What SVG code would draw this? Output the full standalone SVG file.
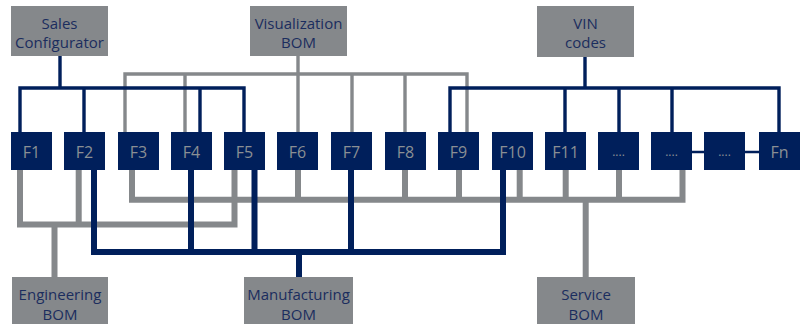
<svg xmlns="http://www.w3.org/2000/svg" width="800" height="324" viewBox="0 0 800 324">
<style>
.src{fill:#85888b}
.src text{fill:#1b2d5e;font-family:"Open Sans","Liberation Sans",sans-serif;font-size:15px;text-anchor:middle}
.f rect{fill:#001f5b}
.f text{fill:#8a8f94;font-family:"Open Sans","Liberation Sans",sans-serif;font-size:16px;text-anchor:middle}
.gt{fill:none;stroke:#85888b;stroke-width:3.4}
.nt{fill:none;stroke:#001f5b;stroke-width:3.4}
.gb{fill:none;stroke:#85888b;stroke-width:6}
.nb{fill:none;stroke:#001f5b;stroke-width:6}
.nl{fill:none;stroke:#001f5b;stroke-width:2.5}
</style>
<g id="connectors">
<path class="gt" d="M298,56V132 M125,132V74H467V132 M185,74V132 M352,74V132 M405,74V132"/>
<path class="nt" d="M60,56V88 M20,132V88H244V132 M84,88V132 M200,88V132"/>
<path class="nt" d="M585,57V88 M450,132V88H779V132 M565,88V132 M619,88V132 M672,88V132"/>
<path class="nl" d="M692,152H759"/>
<path class="gb" d="M20,170V224.5H234.5V170 M78.7,170V224.5 M54.5,224.5V277"/>
<path class="gb" d="M132,170V199.7H682.5V170 M298,170V199.7 M405,170V199.7 M459,170V199.7 M519.7,170V199.7 M565.7,170V199.7 M619,170V199.7 M585.7,199.7V277"/>
<path class="nb" d="M94,170V252H503V170 M191,170V252 M254.5,170V252 M351,170V252 M299,252V277"/>
</g>
<g id="sales" class="src"><rect x="11" y="6" width="97" height="50"/><text x="59.5" y="28.5">Sales</text><text x="59.5" y="48">Configurator</text></g>
<g id="vis" class="src"><rect x="250" y="6" width="97" height="50"/><text x="298.5" y="28.5">Visualization</text><text x="298.5" y="48">BOM</text></g>
<g id="vin" class="src"><rect x="537" y="6" width="97" height="51"/><text x="585.5" y="28.5">VIN</text><text x="585.5" y="48">codes</text></g>
<g id="ebom" class="src"><rect x="12" y="277" width="96" height="47"/><text x="60" y="300">Engineering</text><text x="60" y="320">BOM</text></g>
<g id="mbom" class="src"><rect x="244" y="277" width="109" height="47"/><text x="298.5" y="300">Manufacturing</text><text x="298.5" y="320">BOM</text></g>
<g id="sbom" class="src"><rect x="537" y="277" width="98" height="47"/><text x="586" y="300">Service</text><text x="586" y="320">BOM</text></g>
<g id="F1" class="f"><rect x="11" y="132" width="41" height="38"/><text x="31.5" y="158">F1</text></g>
<g id="F2" class="f"><rect x="64" y="132" width="41" height="38"/><text x="84.5" y="158">F2</text></g>
<g id="F3" class="f"><rect x="118" y="132" width="41" height="38"/><text x="138.5" y="158">F3</text></g>
<g id="F4" class="f"><rect x="171" y="132" width="41" height="38"/><text x="191.5" y="158">F4</text></g>
<g id="F5" class="f"><rect x="224" y="132" width="41" height="38"/><text x="244.5" y="158">F5</text></g>
<g id="F6" class="f"><rect x="277" y="132" width="41" height="38"/><text x="297.5" y="158">F6</text></g>
<g id="F7" class="f"><rect x="331" y="132" width="41" height="38"/><text x="351.5" y="158">F7</text></g>
<g id="F8" class="f"><rect x="385" y="132" width="41" height="38"/><text x="405.5" y="158">F8</text></g>
<g id="F9" class="f"><rect x="438" y="132" width="41" height="38"/><text x="458.5" y="158">F9</text></g>
<g id="F10" class="f"><rect x="492" y="132" width="41" height="38"/><text x="512.5" y="158">F10</text></g>
<g id="F11" class="f"><rect x="545" y="132" width="41" height="38"/><text x="565.5" y="158">F11</text></g>
<g id="Fd1" class="f"><rect x="598" y="132" width="41" height="38"/><text x="618.5" y="156" style="font-size:12px">....</text></g>
<g id="Fd2" class="f"><rect x="651" y="132" width="41" height="38"/><text x="671.5" y="156" style="font-size:12px">....</text></g>
<g id="Fd3" class="f"><rect x="704" y="132" width="41" height="38"/><text x="724.5" y="156" style="font-size:12px">....</text></g>
<g id="Fn" class="f"><rect x="759" y="132" width="41" height="38"/><text x="779.5" y="158">Fn</text></g>
</svg>
